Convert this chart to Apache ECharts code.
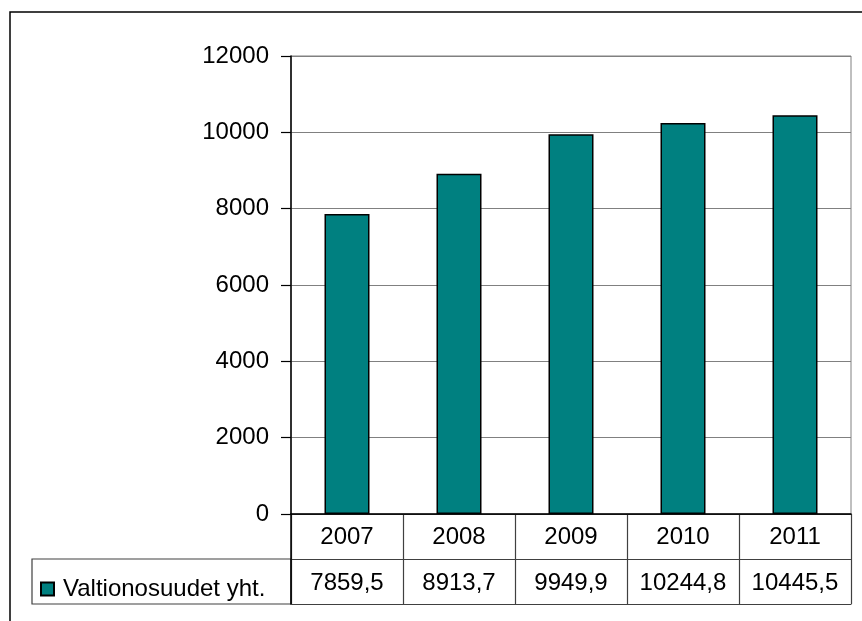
<!DOCTYPE html>
<html>
<head>
<meta charset="utf-8">
<script src="https://cdn.jsdelivr.net/npm/echarts@6/dist/echarts.min.js"></script>
<style>
html,body{margin:0;padding:0;background:#fff;}
#c{width:862px;height:621px;}
</style>
</head>
<body>
<div id="c"></div>
<script>
var years = ['2007', '2008', '2009', '2010', '2011'];
var values = [7859.5, 8913.7, 9949.9, 10244.8, 10445.5];
var seriesName = 'Valtionosuudet yht.';
var yTicks = { min: 0, max: 12000, interval: 2000 };

function fmt(v) { return v.toFixed(1).replace('.', ','); }

var FONT = '"Liberation Sans", Arial, sans-serif';
var chart = echarts.init(document.getElementById('c'));
chart.setOption({
  animation: false,
  backgroundColor: '#fff',
  textStyle: { fontFamily: FONT },
  grid: [
    { left: 291, top: 56, width: 560, height: 458, show: true, borderColor: '#808080', borderWidth: 1 },
    { left: 291, top: 514, width: 560, height: 90 }
  ],
  legend: {
    data: [seriesName],
    left: 35, top: 572,
    icon: 'rect', itemWidth: 13, itemHeight: 13,
    textStyle: { fontSize: 24, color: '#000', fontFamily: FONT, padding: [0, 0, 0, 4] },
    selectedMode: false
  },
  xAxis: [
    {
      type: 'category', gridIndex: 0, data: years,
      axisLine: { lineStyle: { color: '#000', width: 1.5 } },
      axisTick: { show: false },
      axisLabel: { fontSize: 24, color: '#000', margin: 11, fontFamily: FONT },
      splitLine: { show: false }
    },
    {
      type: 'category', gridIndex: 1, data: years,
      axisLine: { lineStyle: { color: '#404040', width: 1.2 } },
      axisTick: { show: false },
      axisLabel: { show: false },
      splitLine: { show: true, interval: 0, lineStyle: { color: '#404040', width: 1.2 } }
    }
  ],
  yAxis: [
    {
      type: 'value', gridIndex: 0, min: yTicks.min, max: yTicks.max, interval: yTicks.interval,
      axisLine: { show: true, lineStyle: { color: '#000', width: 1.5 } },
      axisTick: { show: true, length: 10, lineStyle: { color: '#000', width: 1.2 } },
      axisLabel: { fontSize: 24, color: '#000', margin: 22, fontFamily: FONT,
        formatter: function (v) { return String(v); } },
      splitLine: { show: true, lineStyle: { color: '#808080', width: 1.2 } }
    },
    {
      type: 'value', gridIndex: 1, min: 0, max: 2, interval: 1,
      axisLine: { show: true, lineStyle: { color: '#000', width: 1.5 } },
      axisTick: { show: false },
      axisLabel: { show: false },
      splitLine: { show: true, lineStyle: { color: '#404040', width: 1.2 } }
    }
  ],
  graphic: [
    { type: 'rect', shape: { x: 10, y: 12, width: 1000, height: 800 }, style: { fill: 'none', stroke: '#000', lineWidth: 1.5 }, silent: true },
    { type: 'rect', shape: { x: 32, y: 559, width: 259, height: 45 }, style: { fill: 'none', stroke: '#404040', lineWidth: 1.2 }, silent: true }
  ],
  series: [
    {
      name: seriesName, type: 'bar', xAxisIndex: 0, yAxisIndex: 0,
      data: values, barWidth: 45,
      itemStyle: { color: '#008080', borderColor: '#000', borderWidth: 1.5 }
    },
    {
      name: 'table', type: 'scatter', xAxisIndex: 1, yAxisIndex: 1,
      data: values.map(function (v, i) { return [i, 0.5]; }),
      symbolSize: 1,
      itemStyle: { color: '#ffffff', opacity: 1 },
      label: {
        show: true, position: 'inside', offset: [0, 2], fontSize: 24, color: '#000000', opacity: 1,
        textBorderWidth: 0, fontFamily: FONT,
        formatter: function (p) { return fmt(values[p.dataIndex]); }
      },
      emphasis: { disabled: true },
      silent: true
    }
  ]
});
</script>
</body>
</html>
